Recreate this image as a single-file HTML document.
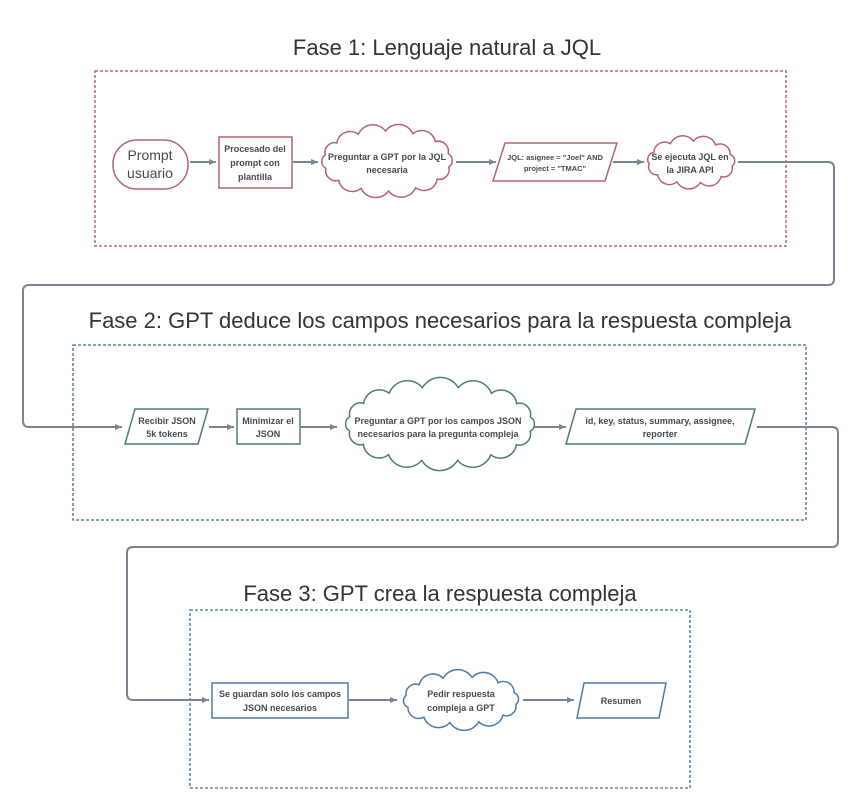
<!DOCTYPE html>
<html><head><meta charset="utf-8"><style>
html,body{margin:0;padding:0;background:#fff;width:862px;height:811px;overflow:hidden}
svg text{font-family:"Liberation Sans","DejaVu Sans",sans-serif;fill:#444a52}
.t{font-size:22px;fill:#2f343a}
.s{font-size:9px;font-weight:bold}
.c{fill:none;stroke:#7b8591;stroke-width:2}
</style></head><body>
<svg id="g" width="862" height="811" viewBox="0 0 862 811" xmlns="http://www.w3.org/2000/svg">
<defs><marker id="a" markerWidth="8" markerHeight="8" refX="7" refY="4" orient="auto" markerUnits="userSpaceOnUse"><path d="M0,1 L7,4 L0,7 z" fill="#7b8591"/></marker></defs>

<text class="t" x="447" y="55" text-anchor="middle">Fase 1: Lenguaje natural a JQL</text>
<text class="t" x="440" y="328" text-anchor="middle">Fase 2: GPT deduce los campos necesarios para la respuesta compleja</text>
<text class="t" x="440" y="601" text-anchor="middle">Fase 3: GPT crea la respuesta compleja</text>

<rect x="95" y="71" width="691" height="175" fill="none" stroke="#a8505c" stroke-width="1.3" stroke-dasharray="3,2"/>
<rect x="73" y="345" width="733" height="175" fill="none" stroke="#3f7064" stroke-width="1.3" stroke-dasharray="3,2"/>
<rect x="190" y="610" width="500" height="178" fill="none" stroke="#3f6f9e" stroke-width="1.3" stroke-dasharray="3,2"/>

<path class="c" d="M738,162 H828 Q834,162 834,168 V279 Q834,285 828,285 H29 Q23,285 23,291 V421 Q23,427 29,427 H122" marker-end="url(#a)"/>
<path class="c" d="M757,427 H832 Q838,427 838,433 V541 Q838,547 832,547 H133 Q127,547 127,553 V694 Q127,700 133,700 H209" marker-end="url(#a)"/>
<path class="c" d="M190,162 H216" marker-end="url(#a)"/>
<path class="c" d="M293,162 H318" marker-end="url(#a)"/>
<path class="c" d="M456,162 H496" marker-end="url(#a)"/>
<path class="c" d="M613,162 H644" marker-end="url(#a)"/>
<path class="c" d="M209,427 H234" marker-end="url(#a)"/>
<path class="c" d="M301,427 H337" marker-end="url(#a)"/>
<path class="c" d="M534,427 H566" marker-end="url(#a)"/>
<path class="c" d="M349,700 H397" marker-end="url(#a)"/>
<path class="c" d="M523,700 H574" marker-end="url(#a)"/>

<rect x="113" y="140" width="75" height="49" rx="24" fill="#fff" stroke="#b5646e" stroke-width="1.5"/>
<text x="150" y="160" text-anchor="middle" style="font-size:14px">Prompt</text>
<text x="150" y="178" text-anchor="middle" style="font-size:14px">usuario</text>
<rect x="219" y="137" width="73" height="51" fill="#fff" stroke="#b5646e" stroke-width="1.5"/>
<text class="s" x="255" y="152" text-anchor="middle">Procesado del</text>
<text class="s" x="255" y="166" text-anchor="middle">prompt con</text>
<text class="s" x="255" y="180" text-anchor="middle">plantilla</text>
<g id="cl1"></g>
<text class="s" x="387" y="160" text-anchor="middle">Preguntar a GPT por la JQL</text>
<text class="s" x="387" y="173" text-anchor="middle">necesaria</text>
<polygon points="505,143 617,143 605,181 493,181" fill="#fff" stroke="#b5646e" stroke-width="1.5"/>
<text x="555" y="160" text-anchor="middle" style="font-size:7.5px;font-weight:bold">JQL: asignee = "Joel" AND</text>
<text x="555" y="171" text-anchor="middle" style="font-size:7.5px;font-weight:bold">project = "TMAC"</text>
<g id="cl2"></g>
<text class="s" x="690" y="160" text-anchor="middle">Se ejecuta JQL en</text>
<text class="s" x="690" y="173" text-anchor="middle">la JIRA API</text>

<polygon points="135,409 208,409 198,444 125,444" fill="#fff" stroke="#4e7d70" stroke-width="1.5"/>
<text class="s" x="167" y="424" text-anchor="middle">Recibir JSON</text>
<text class="s" x="167" y="437" text-anchor="middle">5k tokens</text>
<rect x="237" y="409" width="63" height="35" fill="#fff" stroke="#4e7d70" stroke-width="1.5"/>
<text class="s" x="268" y="424" text-anchor="middle">Minimizar el</text>
<text class="s" x="268" y="437" text-anchor="middle">JSON</text>
<g id="cl3"></g>
<text class="s" x="438" y="424" text-anchor="middle">Preguntar a GPT por los campos JSON</text>
<text class="s" x="438" y="437" text-anchor="middle">necesarios para la pregunta compleja</text>
<polygon points="576,409 755,409 745,444 566,444" fill="#fff" stroke="#4e7d70" stroke-width="1.5"/>
<text class="s" x="660" y="424" text-anchor="middle">id, key, status, summary, assignee,</text>
<text class="s" x="660" y="437" text-anchor="middle">reporter</text>

<rect x="212" y="683" width="136" height="35" fill="#fff" stroke="#4a7ba8" stroke-width="1.5"/>
<text class="s" x="280" y="697" text-anchor="middle">Se guardan solo los campos</text>
<text class="s" x="280" y="711" text-anchor="middle">JSON necesarios</text>
<g id="cl4"></g>
<text class="s" x="461" y="697" text-anchor="middle">Pedir respuesta</text>
<text class="s" x="461" y="711" text-anchor="middle">compleja a GPT</text>
<polygon points="584,683 666,683 659,718 577,718" fill="#fff" stroke="#4a7ba8" stroke-width="1.5"/>
<text class="s" x="621" y="704" text-anchor="middle">Resumen</text>
</svg>
<script>
function cloud(id,cx,cy,rx,ry,n,col){
  var pts=[];for(var i=0;i<n;i++){var t=i/n*2*Math.PI+0.2;pts.push([cx+rx*Math.cos(t),cy+ry*Math.sin(t)]);}
  var d="M"+pts[0][0].toFixed(1)+","+pts[0][1].toFixed(1);
  for(var i=0;i<n;i++){var p=pts[i],q=pts[(i+1)%n];var ch=Math.hypot(q[0]-p[0],q[1]-p[1]);var r=ch*0.58;
    d+=" A"+r.toFixed(1)+","+r.toFixed(1)+" 0 0 1 "+q[0].toFixed(1)+","+q[1].toFixed(1);}
  d+="Z";
  document.getElementById(id).innerHTML='<path d="'+d+'" fill="#fff" stroke="'+col+'" stroke-width="1.5"/>';
}
cloud("cl1",387,161,63,30,14,"#b5646e");
cloud("cl2",691,162,42,21,11,"#b5646e");
cloud("cl3",440,424,92,37,16,"#4e7d70");
cloud("cl4",461,700,56,23,12,"#4a7ba8");
</script>
</body></html>
